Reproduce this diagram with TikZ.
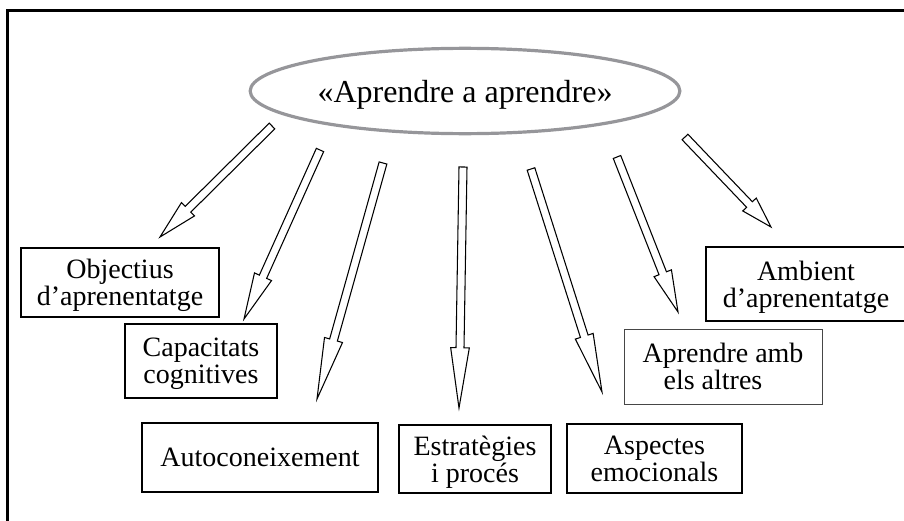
\documentclass[tikz,border=0pt]{standalone}
\usepackage{fontspec}
\setmainfont{Liberation Serif}
\usetikzlibrary{calc, shapes.geometric}
\definecolor{FrameColor}{RGB}{0,0,0}
\definecolor{EllipseColor}{RGB}{150,150,154}
\definecolor{ThinBoxColor}{RGB}{70,70,70}
\tikzstyle{topic} = [ellipse, draw=EllipseColor, line width=2.4pt, minimum width=318pt, minimum height=64pt, text depth=0pt, font=\fontsize{24}{28}\selectfont]
\tikzstyle{item} = [rectangle, draw, line width=1.2pt, align=center, inner sep=2pt, text depth=0pt, font=\fontsize{21}{20.25}\selectfont]
\tikzstyle{thinitem} = [item, draw=ThinBoxColor, line width=0.6pt]
\tikzstyle{hollow} = [draw, line width=0.8pt, fill=white, line join=miter]
\newcommand{\hollowarrow}[2]{%
  \coordinate (hb) at ($(#1)!0.75!(#2)$);
  \draw[hollow] ($(#1)!3pt!90:(#2)$) -- ($(hb)!3pt!90:(#2)$) -- ($(hb)!7pt!90:(#2)$) -- (#2)
    -- ($(hb)!7pt!-90:(#2)$) -- ($(hb)!3pt!-90:(#2)$) -- ($(#1)!3pt!-90:(#2)$) -- cycle;
}

\begin{document}
\begin{tikzpicture}[x=0.75pt, y=-0.75pt]
    \useasboundingbox (0,0) rectangle (904,521);
    \clip (0,0) rectangle (904,521);

    % Outer frame (only its left and top sides show)
    \draw[FrameColor, line width=2.25pt] (7,530) |- (920,10);

    % Central idea
    \node[topic] (topic) at (465,91) {«Aprendre a aprendre»};

    % Sub-topics
    \node[item, minimum width=148.5pt, minimum height=51.75pt] (obj) at (120,282.5) {Objectius\\d’aprenentatge};
    \node[item, minimum width=114pt, minimum height=55.5pt] (cap) at (201,361) {Capacitats\\cognitives};
    \node[item, minimum width=177pt, minimum height=51.75pt] (auto) at (260,457.5) {Autoconeixement};
    \node[item, minimum width=114pt, minimum height=51pt] (estr) at (475,459) {Estratègies\\i procés};
    \node[item, minimum width=131.25pt, minimum height=51.75pt] (asp) at (654.5,458.5) {Aspectes\\emocionals};
    \node[thinitem, minimum width=148.5pt, minimum height=56.25pt] (altres) at (723,366.5) {Aprendre amb\\els altres\hspace*{15pt}};
    \node[item, minimum width=150pt, minimum height=55.5pt] (amb) at (806,284) {Ambient\\d’aprenentatge};

    % Arrow ends
    \coordinate (o1) at (272,126);  \coordinate (t1) at (160,237);
    \coordinate (o2) at (320,150);  \coordinate (t2) at (244,319);
    \coordinate (o3) at (383,163);  \coordinate (t3) at (317,399);
    \coordinate (o4) at (463,167);  \coordinate (t4) at (459,408);
    \coordinate (o5) at (531,169);  \coordinate (t5) at (602,392);
    \coordinate (o6) at (617,157);  \coordinate (t6) at (678,312);
    \coordinate (o7) at (685,137);  \coordinate (t7) at (771,227);

    % Hollow arrows
    \hollowarrow{o1}{t1}
    \hollowarrow{o2}{t2}
    \hollowarrow{o3}{t3}
    \hollowarrow{o4}{t4}
    \hollowarrow{o5}{t5}
    \hollowarrow{o6}{t6}
    \hollowarrow{o7}{t7}
\end{tikzpicture}
\end{document}
